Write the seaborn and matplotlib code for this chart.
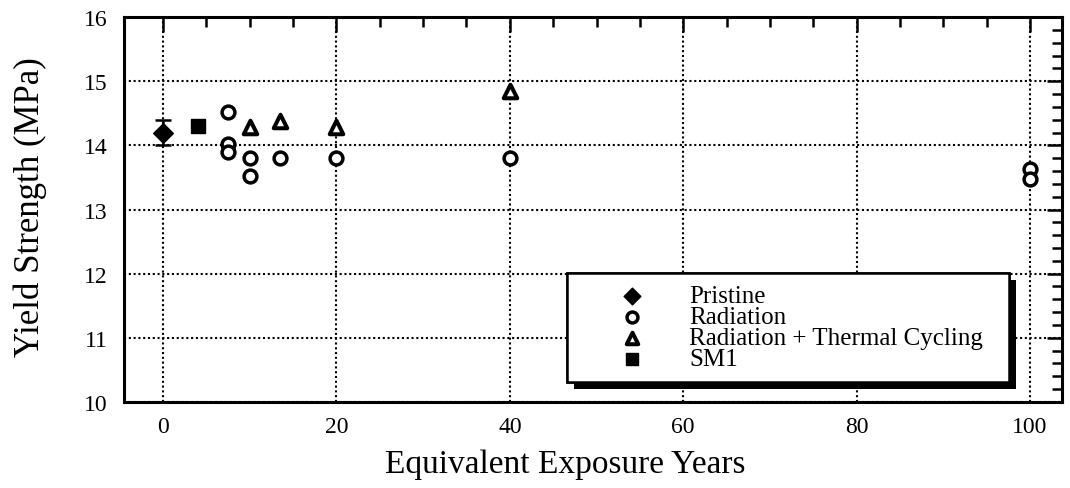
import numpy as np
import pandas as pd
import seaborn as sns
import matplotlib
matplotlib.use("Agg")
import matplotlib.pyplot as plt
import matplotlib.patheffects as pe
from matplotlib.ticker import MultipleLocator

# ---- data ----
pristine_x = [0]
pristine_y = [14.2]
pristine_err = [0.2]

radiation_x = [7.5, 7.5, 7.5, 10, 10, 13.5, 20, 40, 100, 100]
radiation_y = [14.52, 14.02, 13.90, 13.80, 13.52, 13.80, 13.80, 13.80, 13.63, 13.48]

rtc_x = [10, 13.5, 20, 40]
rtc_y = [14.29, 14.38, 14.29, 14.85]

sm1_x = [4]
sm1_y = [14.30]

x_ticks = [0, 20, 40, 60, 80, 100]
y_ticks = [10, 11, 12, 13, 14, 15, 16]

sns.set_theme(style="white")
plt.rcParams['font.family'] = ['Liberation Serif', 'DejaVu Serif']
plt.rcParams['text.color'] = 'black'
plt.rcParams['axes.labelcolor'] = 'black'

fig = plt.figure(figsize=(10.7, 4.89), dpi=100)
ax = fig.add_axes([0.116, 0.176, 0.8765, 0.787])

ax.errorbar(pristine_x, pristine_y, yerr=pristine_err, fmt='none', ecolor='black',
            elinewidth=1.8, capsize=6, capthick=1.8, zorder=3)
sns.scatterplot(x=pristine_x, y=pristine_y, marker='D', s=100, color='black',
                edgecolor='black', linewidth=1, ax=ax, label='Pristine', zorder=4)
sns.scatterplot(x=radiation_x, y=radiation_y, marker='o', s=85, facecolor='white',
                edgecolor='black', linewidth=2.5, ax=ax, label='Radiation', zorder=4)
sns.scatterplot(x=rtc_x, y=rtc_y, marker='^', s=95, facecolor='white',
                edgecolor='black', linewidth=2.9, ax=ax,
                label='Radiation + Thermal Cycling', zorder=4)
sns.scatterplot(x=sm1_x, y=sm1_y, marker='s', s=110, color='black',
                edgecolor='black', linewidth=1, ax=ax, label='SM1', zorder=4)

ax.set_xlim(-4.5, 103.7)
ax.set_ylim(10, 16)
ax.set_xticks(x_ticks)
ax.set_yticks(y_ticks)
ax.xaxis.set_minor_locator(MultipleLocator(5))
ax.yaxis.set_minor_locator(MultipleLocator(0.2))
ax.tick_params(which='both', direction='in', top=True, right=True, colors='black',
               labelsize=17, width=1.8)
ax.tick_params(which='major', length=11)
ax.tick_params(axis='x', which='major', pad=10)
ax.tick_params(axis='y', which='major', pad=12)
ax.tick_params(which='minor', length=7)
ax.grid(True, which='major', color='black', linestyle=(0, (1, 1.3)), linewidth=1.5)
for sp in ax.spines.values():
    sp.set_color('black')
    sp.set_linewidth(2.2)

ax.set_xlabel('Equivalent Exposure Years', fontsize=24, color='black')
ax.set_ylabel('Yield Strength (MPa)', fontsize=25, color='black')
ax.xaxis.set_label_coords(0.47, -0.12)
ax.yaxis.set_label_coords(-0.082, 0.51)

leg = ax.legend(loc='lower left', bbox_to_anchor=(0.472, 0.052, 0.472, 0.3),
                mode='expand', frameon=True, fancybox=False, fontsize=18,
                handlelength=4.26, handletextpad=0.16, labelspacing=-0.06,
                borderpad=0.47, borderaxespad=0, markerscale=0.85)
frame = leg.get_frame()
frame.set_edgecolor('black')
frame.set_linewidth(1.8)
frame.set_facecolor('white')
frame.set_alpha(1)
frame.set_path_effects([pe.withSimplePatchShadow(offset=(5, -5), shadow_rgbFace='black',
                                                 alpha=1), pe.Normal()])
for t in leg.get_texts():
    t.set_color('black')
leg.set_zorder(10)

fig.savefig('out.png', dpi=100)
